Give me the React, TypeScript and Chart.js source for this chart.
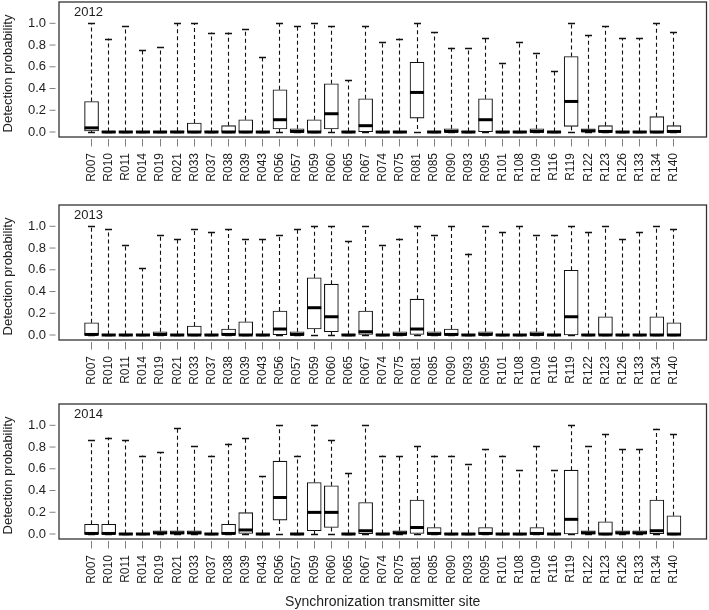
import React, { useEffect, useRef } from 'react';
import { Chart, registerables } from 'chart.js';
Chart.register(...registerables);

const sites = ['R007', 'R010', 'R011', 'R014', 'R019', 'R021', 'R033', 'R037', 'R038', 'R039', 'R043', 'R056', 'R057', 'R059', 'R060', 'R065', 'R067', 'R074', 'R075', 'R081', 'R085', 'R090', 'R093', 'R095', 'R101', 'R108', 'R109', 'R116', 'R119', 'R122', 'R123', 'R126', 'R133', 'R134', 'R140'];
const yTickValues = [0, 0.2, 0.4, 0.6, 0.8, 1.0];
const years = ['2012', '2013', '2014'];
const yTitle = 'Detection probability';
const xTitle = 'Synchronization transmitter site';

// 2012
const min2012 = [0, 0, 0, 0, 0, 0, 0, 0, 0, 0, 0, 0, 0, 0, 0, 0, 0, 0, 0, 0, 0, 0, 0, 0, 0, 0, 0, 0, 0, 0, 0, 0, 0, 0, 0];
const q1_2012 = [0.01, 0, 0, 0, 0, 0, 0, 0, 0, 0, 0, 0.028, 0, 0, 0.028, 0, 0.003, 0, 0, 0.128, 0, 0, 0, 0.003, 0, 0, 0, 0, 0.052, 0, 0, 0, 0, 0, 0];
const med2012 = [0.038, 0, 0, 0, 0, 0, 0, 0, 0, 0, 0, 0.113, 0.005, 0, 0.168, 0, 0.058, 0, 0, 0.364, 0, 0.005, 0, 0.113, 0, 0, 0.005, 0, 0.281, 0.01, 0.005, 0, 0, 0, 0.005];
const q3_2012 = [0.28, 0.005, 0.005, 0.005, 0.005, 0.008, 0.083, 0.005, 0.058, 0.113, 0.005, 0.388, 0.03, 0.113, 0.443, 0.005, 0.306, 0.005, 0.005, 0.642, 0.005, 0.03, 0.005, 0.306, 0.005, 0.005, 0.03, 0.005, 0.694, 0.03, 0.058, 0.005, 0.005, 0.141, 0.058];
const max2012 = [1.0, 0.86, 0.975, 0.75, 0.78, 1.0, 1.0, 0.915, 0.915, 0.945, 0.694, 1.0, 0.975, 1.0, 0.975, 0.474, 0.975, 0.83, 0.86, 1.0, 0.917, 0.777, 0.777, 0.862, 0.639, 0.83, 0.725, 0.557, 1.0, 0.893, 0.975, 0.862, 0.862, 1.0, 0.917];

// 2013
const min2013 = [0, 0, 0, 0, 0, 0, 0, 0, 0, 0, 0, 0, 0, 0, 0, 0, 0, 0, 0, 0, 0, 0, 0, 0, 0, 0, 0, 0, 0, 0, 0, 0, 0, 0, 0];
const q1_2013 = [0, 0, 0, 0, 0, 0, 0, 0, 0, 0, 0, 0.003, 0, 0.055, 0.03, 0, 0.005, 0, 0, 0.005, 0, 0, 0, 0, 0, 0, 0, 0, 0, 0, 0, 0, 0, 0, 0];
const med2013 = [0.005, 0, 0, 0, 0.005, 0, 0, 0, 0.005, 0, 0, 0.055, 0.005, 0.251, 0.168, 0, 0.03, 0, 0.005, 0.055, 0.005, 0.005, 0, 0.005, 0, 0, 0.005, 0, 0.168, 0, 0, 0, 0, 0, 0];
const q3_2013 = [0.113, 0.005, 0.005, 0.005, 0.03, 0.005, 0.083, 0.005, 0.055, 0.122, 0.005, 0.22, 0.03, 0.526, 0.468, 0.005, 0.22, 0.005, 0.03, 0.33, 0.03, 0.055, 0.005, 0.03, 0.005, 0.005, 0.03, 0.005, 0.596, 0.005, 0.168, 0.005, 0.005, 0.168, 0.113];
const max2013 = [1.0, 0.972, 0.832, 0.612, 0.917, 0.887, 0.972, 0.948, 0.972, 0.887, 0.887, 0.917, 0.972, 1.0, 1.0, 0.862, 1.0, 0.832, 0.887, 1.0, 0.917, 1.0, 0.749, 1.0, 0.948, 1.0, 0.917, 0.917, 1.0, 0.948, 1.0, 0.887, 0.948, 1.0, 0.972];

// 2014
const min2014 = [0, 0, 0, 0, 0, 0, 0, 0, 0, 0, 0, 0, 0, 0, 0, 0, 0, 0, 0, 0, 0, 0, 0, 0, 0, 0, 0, 0, 0, 0, 0, 0, 0, 0, 0];
const q1_2014 = [0, 0, 0, 0, 0, 0, 0, 0, 0, 0.005, 0, 0.128, 0, 0.03, 0.06, 0, 0.003, 0, 0, 0.005, 0, 0, 0, 0, 0, 0, 0, 0, 0, 0, 0, 0, 0, 0.003, 0];
const med2014 = [0.005, 0.005, 0, 0, 0.01, 0.01, 0.01, 0, 0.005, 0.037, 0, 0.336, 0, 0.199, 0.199, 0, 0.03, 0, 0.01, 0.06, 0.005, 0, 0, 0.005, 0, 0, 0.005, 0, 0.135, 0.01, 0, 0.01, 0.01, 0.03, 0];
const q3_2014 = [0.089, 0.089, 0.005, 0.005, 0.03, 0.03, 0.03, 0.005, 0.089, 0.196, 0.005, 0.67, 0.005, 0.474, 0.443, 0.005, 0.29, 0.005, 0.03, 0.312, 0.06, 0.005, 0.005, 0.06, 0.005, 0.005, 0.06, 0.005, 0.587, 0.03, 0.113, 0.03, 0.03, 0.312, 0.168];
const max2014 = [0.862, 0.887, 0.862, 0.722, 0.752, 0.975, 0.807, 0.722, 0.832, 0.887, 0.532, 1.0, 0.722, 1.0, 0.862, 0.563, 1.0, 0.722, 0.722, 0.807, 0.722, 0.722, 0.642, 0.78, 0.722, 0.587, 0.807, 0.587, 1.0, 0.807, 0.917, 0.78, 0.78, 0.969, 0.917];

type Panel = { year: string; min: number[]; q1: number[]; med: number[]; q3: number[]; max: number[] };

const panels: Panel[] = [
  { year: years[0], min: min2012, q1: q1_2012, med: med2012, q3: q3_2012, max: max2012 },
  { year: years[1], min: min2013, q1: q1_2013, med: med2013, q3: q3_2013, max: max2013 },
  { year: years[2], min: min2014, q1: q1_2014, med: med2014, q3: q3_2014, max: max2014 },
];

const FONT = '"Liberation Sans", Arial, Helvetica, sans-serif';
const PANEL_TOPS = [0, 203, 402];
const PANEL_HEIGHTS = [200, 199, 208];
const PLOT_H = 135;
const BOX_W = 14;

function makeConfig(p: Panel, height: number, showXTitle: boolean): any {
  const extras = {
    id: 'boxExtras',
    beforeDatasetsDraw(chart: any) {
      const { ctx, scales } = chart;
      const x = scales.x;
      const y = scales.y;
      ctx.save();
      ctx.strokeStyle = '#111';
      sites.forEach((_, i) => {
        const px = Math.floor(x.getPixelForValue(i + 1)) + 0.5;
        ctx.lineWidth = 1.1;
        ctx.setLineDash([4, 3]);
        ctx.beginPath();
        ctx.moveTo(px, y.getPixelForValue(p.q3[i]));
        ctx.lineTo(px, y.getPixelForValue(p.max[i]));
        ctx.stroke();
        if (p.q1[i] > p.min[i]) {
          ctx.beginPath();
          ctx.moveTo(px, y.getPixelForValue(p.q1[i]));
          ctx.lineTo(px, y.getPixelForValue(p.min[i]));
          ctx.stroke();
        }
        ctx.setLineDash([]);
        ctx.lineWidth = 1.3;
        ctx.beginPath();
        const yTop = Math.round(y.getPixelForValue(p.max[i])) + 0.5;
        ctx.moveTo(px - BOX_W / 4, yTop);
        ctx.lineTo(px + BOX_W / 4, yTop);
        const yBot = Math.round(y.getPixelForValue(p.min[i])) + 0.5;
        ctx.moveTo(px - BOX_W / 4, yBot);
        ctx.lineTo(px + BOX_W / 4, yBot);
        ctx.stroke();
      });
      ctx.restore();
    },
    afterDatasetsDraw(chart: any) {
      const { ctx, chartArea: a, scales } = chart;
      const x = scales.x;
      const y = scales.y;
      ctx.save();
      // medians
      ctx.strokeStyle = '#000';
      ctx.lineWidth = 3;
      ctx.lineCap = 'butt';
      sites.forEach((_, i) => {
        const px = x.getPixelForValue(i + 1);
        const py = y.getPixelForValue(p.med[i]);
        ctx.beginPath();
        ctx.moveTo(px - BOX_W / 2, py);
        ctx.lineTo(px + BOX_W / 2, py);
        ctx.stroke();
      });
      // frame
      ctx.strokeStyle = '#333';
      ctx.lineWidth = 1.3;
      ctx.strokeRect(a.left, a.top, a.right - a.left, a.bottom - a.top);
      // tick marks
      ctx.strokeStyle = '#808080';
      ctx.lineWidth = 1;
      ctx.beginPath();
      yTickValues.forEach((v) => {
        const py = y.getPixelForValue(v);
        ctx.moveTo(a.left - 9.5, py);
        ctx.lineTo(a.left - 3.5, py);
      });
      sites.forEach((_, i) => {
        const px = Math.floor(x.getPixelForValue(i + 1)) + 0.5;
        ctx.moveTo(px, a.bottom + 2);
        ctx.lineTo(px, a.bottom + 9.5);
      });
      ctx.stroke();
      // texts
      ctx.fillStyle = '#1e1e1e';
      ctx.font = `13px ${FONT}`;
      ctx.textAlign = 'left';
      ctx.textBaseline = 'middle';
      ctx.fillText(p.year, a.left + 15, a.top + 10);
      ctx.save();
      ctx.translate(8, (a.top + a.bottom) / 2 + 4);
      ctx.rotate(-Math.PI / 2);
      ctx.textAlign = 'center';
      ctx.fillText(yTitle, 0, 0);
      ctx.restore();
      if (showXTitle) {
        ctx.font = `14px ${FONT}`;
        ctx.textAlign = 'center';
        ctx.fillText(xTitle, (a.left + a.right) / 2, 199.7);
      }
      ctx.restore();
    },
  };

  return {
    type: 'bar',
    data: {
      datasets: [
        {
          data: sites.map((_, i) => ({ x: i + 1, y: [p.q1[i], p.q3[i]] })),
          backgroundColor: '#ffffff',
          borderColor: '#111111',
          borderWidth: 1.1,
          borderSkipped: false,
          barThickness: BOX_W,
        },
      ],
    },
    options: {
      responsive: false,
      animation: false,
      devicePixelRatio: 1,
      layout: { padding: { top: 2, right: 2.5, left: 0, bottom: 0 } },
      plugins: { legend: { display: false }, tooltip: { enabled: false }, title: { display: false } },
      scales: {
        x: {
          type: 'linear',
          min: -0.9,
          max: 36.9,
          offset: false,
          grid: { display: false, drawTicks: false },
          border: { display: false },
          afterBuildTicks: (s: any) => {
            s.ticks = sites.map((_, i) => ({ value: i + 1 }));
          },
          afterFit: (s: any) => {
            s.height = height - 2 - PLOT_H;
            s.paddingLeft = 0;
            s.paddingRight = 0;
          },
          ticks: {
            autoSkip: false,
            maxRotation: 90,
            minRotation: 90,
            padding: 16,
            color: '#1e1e1e',
            font: { family: FONT, size: 12 },
            callback: (v: any) => sites[Math.round(Number(v)) - 1] ?? '',
          },
        },
        y: {
          type: 'linear',
          min: -0.046,
          max: 1.196,
          grid: { display: false, drawTicks: false },
          border: { display: false },
          afterBuildTicks: (s: any) => {
            s.ticks = yTickValues.map((v) => ({ value: v }));
          },
          afterFit: (s: any) => {
            s.width = 59;
            s.paddingTop = 0;
            s.paddingBottom = 0;
          },
          ticks: {
            padding: 13,
            color: '#1e1e1e',
            font: { family: FONT, size: 13 },
            callback: (v: any) => Number(v).toFixed(1),
          },
        },
      },
    },
    plugins: [extras],
  };
}

export default function App() {
  const r0 = useRef<HTMLCanvasElement>(null);
  const r1 = useRef<HTMLCanvasElement>(null);
  const r2 = useRef<HTMLCanvasElement>(null);
  const refs = [r0, r1, r2];

  useEffect(() => {
    const charts = refs.map((r, k) =>
      new Chart(r.current as HTMLCanvasElement, makeConfig(panels[k], PANEL_HEIGHTS[k], k === 2))
    );
    return () => charts.forEach((c) => c.destroy());
  }, []);

  return (
    <div style={{ position: 'absolute', left: 0, top: 0, width: 709, height: 610, background: '#fff' }}>
      {refs.map((r, k) => (
        <canvas
          key={k}
          ref={r}
          width={709}
          height={PANEL_HEIGHTS[k]}
          style={{ position: 'absolute', left: 0, top: PANEL_TOPS[k], width: 709, height: PANEL_HEIGHTS[k] }}
        />
      ))}
    </div>
  );
}
